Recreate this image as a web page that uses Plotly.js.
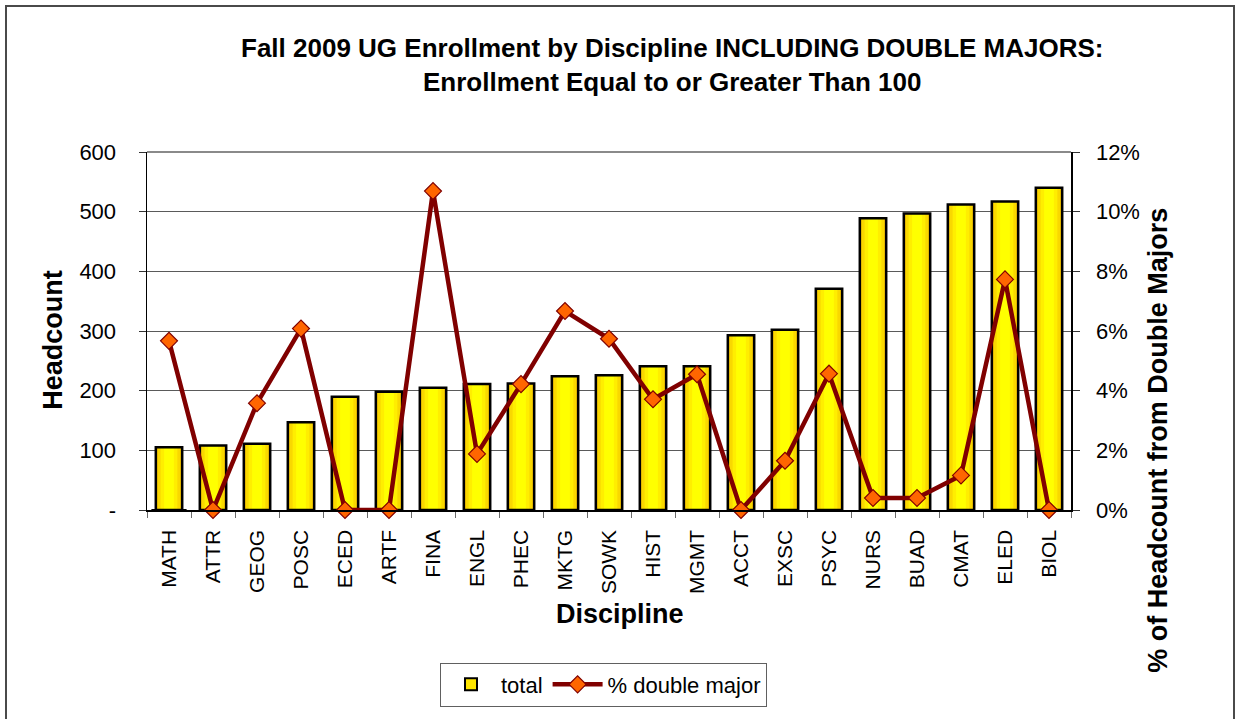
<!DOCTYPE html>
<html>
<head>
<meta charset="utf-8">
<script src="https://cdn.plot.ly/plotly-3.0.1.min.js"></script>
<style>
  html, body { margin: 0; padding: 0; background: #ffffff; }
  #frame { position: absolute; left: 5px; top: 5px; width: 1230px; height: 730px; border: 2px solid #4a4a4a; box-sizing: border-box; }
  #chart { position: absolute; left: 0; top: 0; width: 1238px; height: 719px; }
</style>
</head>
<body>
<div id="frame"></div>
<div id="chart"></div>
<script>
// ---- data ----
const disciplines = ["MATH","ATTR","GEOG","POSC","ECED","ARTF","FINA","ENGL","PHEC","MKTG","SOWK","HIST","MGMT","ACCT","EXSC","PSYC","NURS","BUAD","CMAT","ELED","BIOL"];
const totals = [105, 108, 111, 147, 190, 198, 205, 211, 212, 224, 226, 241, 241, 293, 302, 371, 489, 497, 512, 517, 540];
const pctDouble = [0.0567, 0, 0.0358, 0.0608, 0, 0, 0.1069, 0.0188, 0.0422, 0.0667, 0.0574, 0.0371, 0.0455, 0, 0.0165, 0.0457, 0.0040, 0.0040, 0.0116, 0.0773, 0];
const leftTickVals = [0, 100, 200, 300, 400, 500, 600];
const leftTickText = ["-", "100", "200", "300", "400", "500", "600"];
const rightTickVals = [0, 0.02, 0.04, 0.06, 0.08, 0.10, 0.12];
const rightTickText = ["0%", "2%", "4%", "6%", "8%", "10%", "12%"];
const titleLines = ["Fall 2009 UG Enrollment by Discipline INCLUDING DOUBLE MAJORS:", "Enrollment Equal to or Greater Than 100"];

const FONT = "'Liberation Sans', Arial, sans-serif";

// layered bars to imitate the gold-to-yellow gradient
const layers = [
  {w: 0.60, c: "#EDBE00"},
  {w: 0.50, c: "#F9D800"},
  {w: 0.38, c: "#FFEE00"},
  {w: 0.22, c: "#FFFF00"}
];
const traces = layers.map((l) => ({
  type: "bar", x: disciplines, y: totals, name: "total",
  width: disciplines.map(() => l.w),
  marker: {color: l.c, line: {width: 0}},
  showlegend: false, hoverinfo: "skip", yaxis: "y"
}));
// outline
traces.push({
  type: "bar", x: disciplines, y: totals, name: "total",
  width: disciplines.map(() => 0.60),
  marker: {color: "rgba(0,0,0,0)", line: {color: "#000000", width: 2.5}},
  showlegend: false, hoverinfo: "skip", yaxis: "y"
});
// legend entry for the bars
traces.push({
  type: "bar", x: [disciplines[0]], y: [0], name: "total",
  marker: {color: "#FFE600", line: {color: "#000000", width: 2}},
  showlegend: true, hoverinfo: "skip", yaxis: "y"
});
traces.push({
  type: "scatter", mode: "lines+markers", x: disciplines, y: pctDouble, name: "% double major",
  yaxis: "y2",
  line: {color: "#800000", width: 4.5},
  marker: {symbol: "diamond", size: 13, color: "#FF6600", line: {color: "#800000", width: 1.2}},
  hoverinfo: "skip", cliponaxis: false
});

const L = 147, R = 1071, T = 152, B = 510.3;
const px = X => (X - L) / (R - L);
const py = Y => (B - Y) / (B - T);

const layout = {
  width: 1238, height: 719,
  margin: {l: L, r: 1238 - R, t: T, b: 719 - B},
  paper_bgcolor: "rgba(0,0,0,0)", plot_bgcolor: "#ffffff",
  barmode: "overlay",
  font: {family: FONT, color: "#000000"},
  showlegend: true,
  legend: {
    orientation: "h", x: px(440), y: py(663), xanchor: "left", yanchor: "top",
    bgcolor: "#ffffff", bordercolor: "#606060", borderwidth: 1,
    font: {family: FONT, size: 22, color: "#000000"},
    itemwidth: 50, traceorder: "normal"
  },
  xaxis: {
    type: "category", tickangle: -90, tickfont: {family: FONT, size: 21},
    ticks: "outside", tickson: "boundaries", ticklen: 6, tickcolor: "#6a6a6a",
    showline: true, linecolor: "#000000", linewidth: 1.5, showgrid: false,
    range: [-0.5, disciplines.length - 0.5], ticklabelstandoff: 10
  },
  yaxis: {
    range: [0, 600], tickvals: leftTickVals, ticktext: leftTickText,
    tickfont: {family: FONT, size: 22}, ticks: "outside", ticklen: 7, tickcolor: "#333333",
    showline: true, linecolor: "#000000", linewidth: 1.5,
    showgrid: true, gridcolor: "#5a5a5a", gridwidth: 1, zeroline: false,
    ticklabelstandoff: 18
  },
  yaxis2: {
    overlaying: "y", side: "right", range: [0, 0.12],
    tickvals: rightTickVals, ticktext: rightTickText,
    tickfont: {family: FONT, size: 22}, ticks: "outside", ticklen: 7, tickcolor: "#333333",
    showline: true, linecolor: "#000000", linewidth: 1.5, showgrid: false, zeroline: false,
    ticklabelstandoff: 12
  },
  shapes: [
    {type: "line", xref: "paper", yref: "paper", x0: 0, x1: 1, y0: 1, y1: 1, line: {color: "#8a8a8a", width: 2}}
  ],
  annotations: [
    {text: "<b>" + titleLines[0] + "</b><br><b>" + titleLines[1] + "</b>", xref: "paper", yref: "paper",
     x: px(672), y: py(65), xanchor: "center", yanchor: "middle", showarrow: false,
     font: {family: FONT, size: 26, color: "#000000"}},
    {text: "<b>Headcount</b>", xref: "paper", yref: "paper", x: px(53), y: py(340),
     xanchor: "center", yanchor: "middle", textangle: -90, showarrow: false,
     font: {family: FONT, size: 27}},
    {text: "<b>Discipline</b>", xref: "paper", yref: "paper", x: px(620), y: py(614),
     xanchor: "center", yanchor: "middle", showarrow: false,
     font: {family: FONT, size: 27}},
    {text: "<b>% of Headcount from Double Majors</b>", xref: "paper", yref: "paper", x: px(1158), y: py(441),
     xanchor: "center", yanchor: "middle", textangle: -90, showarrow: false,
     font: {family: FONT, size: 27}}
  ]
};

Plotly.newPlot("chart", traces, layout, {staticPlot: true, displayModeBar: false});
</script>
</body>
</html>
